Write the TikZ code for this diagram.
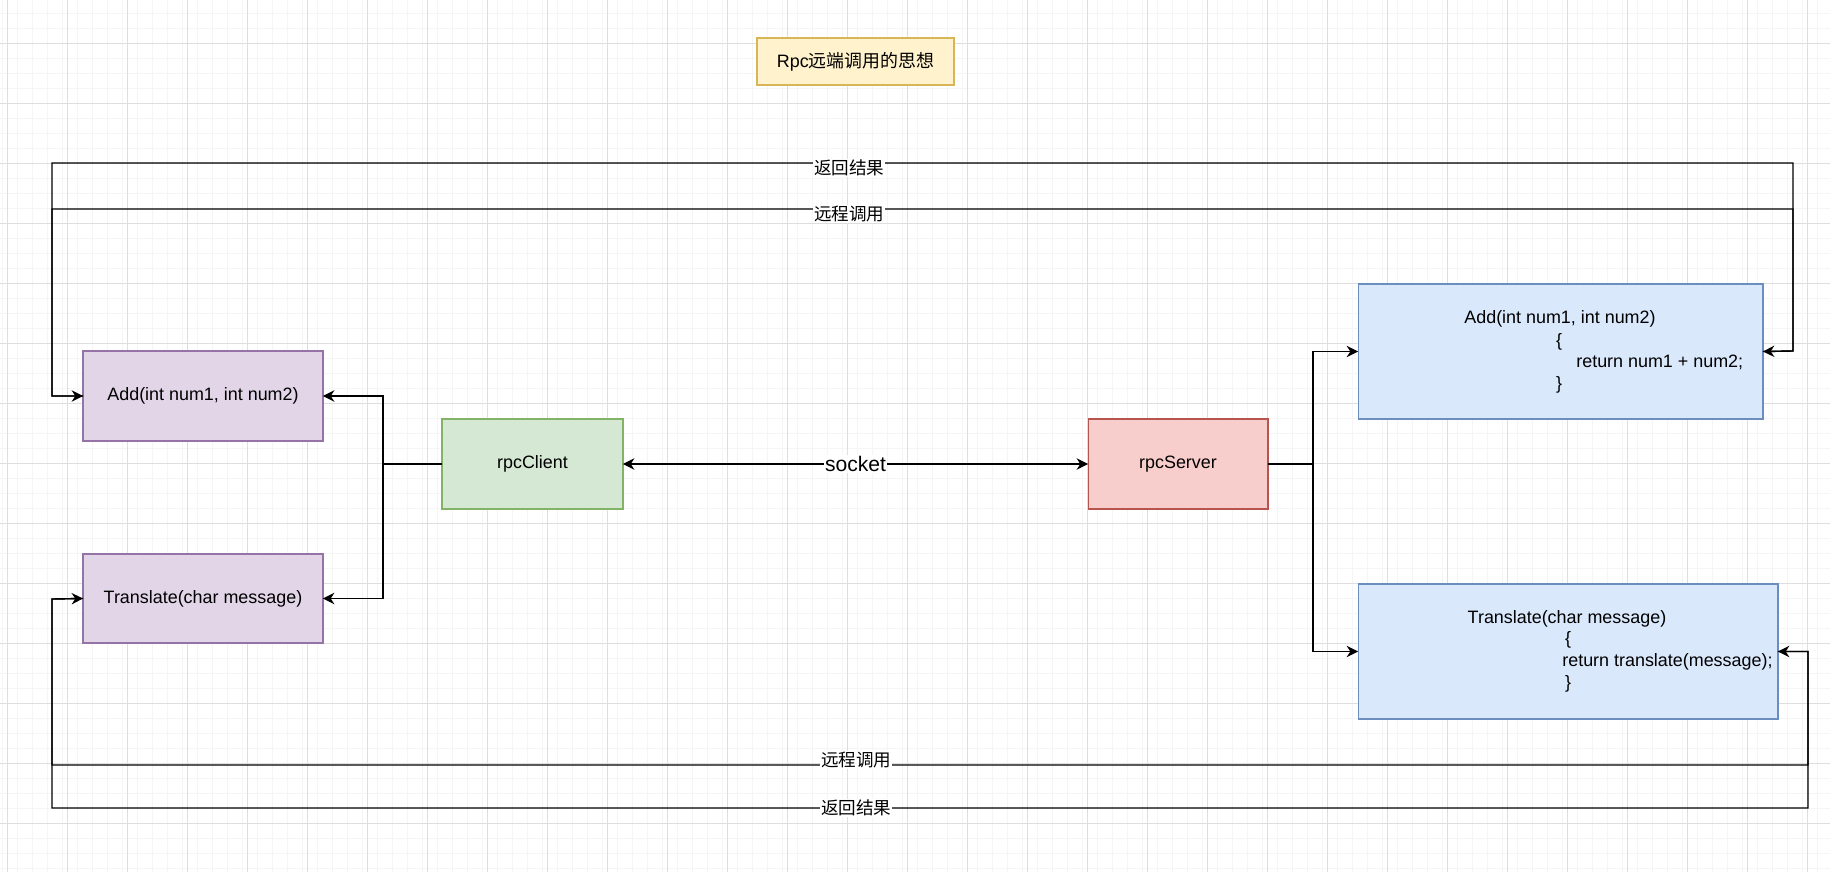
\documentclass[tikz,border=0pt]{standalone}
\usepackage{fontspec}
\setmainfont{Liberation Sans}
\newfontfamily\cjk{Noto Sans CJK SC}
\usetikzlibrary{arrows.meta}
\definecolor{pf}{HTML}{E1D5E7}\definecolor{pd}{HTML}{9673A6}
\definecolor{gf}{HTML}{D5E8D4}\definecolor{gd}{HTML}{82B366}
\definecolor{rf}{HTML}{F8CECC}\definecolor{rd}{HTML}{B85450}
\definecolor{bf}{HTML}{DAE8FC}\definecolor{bd}{HTML}{6C8EBF}
\definecolor{yf}{HTML}{FFF2CC}\definecolor{yd}{HTML}{D6B656}
\begin{document}
\begin{tikzpicture}[x=0.02cm,y=-0.02cm,
  box/.style={draw,line width=0.6pt,inner sep=0,outer sep=0},
  txt/.style={font=\fontsize{10.2}{12}\selectfont,inner sep=0},
  lbl/.style={font=\fontsize{10}{12}\selectfont\cjk,fill=white,inner sep=0.5pt},
  con/.style={line width=0.8pt,-{Stealth[length=6.5pt,width=6.5pt]}},
  ln/.style={line width=0.8pt}]
\fill[white] (0,0) rectangle (1830,872);
\useasboundingbox (0,0) rectangle (1830,872);
\foreach \x in {2,17,...,1830} \draw[black!4,line width=0.3pt] (\x,0) -- (\x,872);
\foreach \y in {13,28,...,872} \draw[black!4,line width=0.3pt] (0,\y) -- (1830,\y);
\foreach \x in {7,67,...,1830} \draw[black!13,line width=0.4pt] (\x,0) -- (\x,872);
\foreach \y in {43,103,...,872} \draw[black!13,line width=0.4pt] (0,\y) -- (1830,\y);

\node[box,fill=yf,draw=yd,minimum width=3.94cm,minimum height=0.94cm,txt] (title) at (855.5,61.5) {Rpc{\cjk 远端调用的思想}};
\node[box,fill=pf,draw=pd,minimum width=4.8cm,minimum height=1.8cm,txt] (addL) at (203,396) {Add(int num1, int num2)};
\node[box,fill=pf,draw=pd,minimum width=4.8cm,minimum height=1.78cm,txt] (trL) at (203,598.5) {Translate(char message)};
\node[box,fill=gf,draw=gd,minimum width=3.62cm,minimum height=1.8cm,txt] (cli) at (532.5,464) {rpcClient};
\node[box,fill=rf,draw=rd,minimum width=3.6cm,minimum height=1.8cm,txt] (srv) at (1178,464) {rpcServer};
\node[box,fill=bf,draw=bd,minimum width=8.1cm,minimum height=2.7cm] (addR) at (1560.5,351.5) {};
\node[box,fill=bf,draw=bd,minimum width=8.4cm,minimum height=2.7cm] (trR) at (1568,651.5) {};
\node[txt] (a1) at (1560,319) {Add(int num1, int num2)};
\node[txt] (a2) at (1559,342) {\{};
\node[txt,anchor=west] (a3) at (1576,362) {return num1 + num2;};
\node[txt] (a4) at (1559,385) {\}};
\node[txt] (t1) at (1567,619) {Translate(char message)};
\node[txt] (t2) at (1568,640) {\{};
\node[txt,anchor=west] (t3) at (1562,662) {return translate(message);};
\node[txt] (t4) at (1568,684) {\}};

\draw[ln,{Stealth[length=6.5pt,width=6.5pt]}-{Stealth[length=6.5pt,width=6.5pt]}] (cli) -- node[fill=white,inner sep=0.5pt,font=\fontsize{12}{14}\selectfont]{socket} (srv);
\draw[con] (cli.west) -- (383,464) |- (addL.east);
\draw[con] (383,464) |- (trL.east);
\draw[con] (srv.east) -- (1313,464) |- (addR.west);
\draw[con] (1313,464) |- (trR.west);

\draw[con] (addL.west) -- (52,396) -- (52,209) -- node[lbl,pos=0.458,yshift=-3pt]{远程调用} (1793,209) -- (1793,351) -- (addR.east);
\draw[con] (addR.east) -- (1793,351) -- (1793,163) -- node[lbl,pos=0.542,yshift=-3pt]{返回结果} (52,163) -- (52,396) -- (addL.west);
\draw[con] (trL.west) -- (52,599) -- (52,765) -- node[lbl,pos=0.458,yshift=3pt]{远程调用} (1808,765) -- (1808,651.5) -- (trR.east);
\draw[con] (trR.east) -- (1808,651.5) -- (1808,808) -- node[lbl,pos=0.542]{返回结果} (52,808) -- (52,599) -- (trL.west);
\end{tikzpicture}
\end{document}
